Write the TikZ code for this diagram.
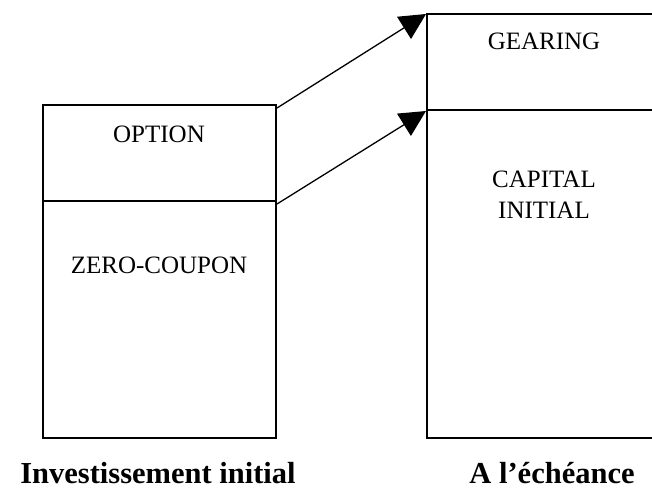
\documentclass[tikz,border=0pt]{standalone}
\usepackage{fontspec}
\setmainfont{Liberation Serif}
\usetikzlibrary{arrows.meta,calc}
\begin{document}
\begin{tikzpicture}[x=1pt,y=-1pt,
  part/.style={draw=black,line width=2pt,rectangle,inner sep=0pt},
  lbl/.style={anchor=base,inner sep=0pt,font=\fontsize{25}{31}\selectfont,align=center},
  caption/.style={anchor=base,inner sep=0pt,font=\fontsize{30.5}{36}\selectfont\bfseries},
  flow/.style={line width=1.3pt,-{Triangle[length=26pt,width=26pt]}}]
\useasboundingbox (0,0) rectangle (652,490);
\clip (0,0) rectangle (652,490);
% left stack
\node[part,minimum width=233.5pt,minimum height=96pt] (opt) at (159.25,153) {};
\node[part,minimum width=233.5pt,minimum height=237pt] (zc) at (159.25,319.5) {};
% right stack
\node[part,minimum width=234pt,minimum height=96pt] (gear) at (544,62) {};
\node[part,minimum width=234pt,minimum height=328pt] (capi) at (544,274) {};
% labels
\node[lbl] (tOpt) at (159,142) {OPTION};
\node[lbl] (tZc) at (159,273) {ZERO-COUPON};
\node[lbl] (tGear) at (544,49) {GEARING};
\node[lbl] (tCap) at (544,218) {CAPITAL\\INITIAL};
\node[caption] (bL) at (158,483) {Investissement initial};
\node[caption] (bR) at (552,483) {A l’échéance};
% connectors
\coordinate (s1) at ($(opt.north east)+(0,4)$);
\coordinate (e1) at ($(gear.north west)+(0,1)$);
\coordinate (s2) at ($(zc.north east)+(0,4)$);
\coordinate (e2) at ($(capi.north west)+(0,2)$);
\draw[flow] (s1) -- (e1);
\draw[flow] (s2) -- (e2);
\end{tikzpicture}
\end{document}
